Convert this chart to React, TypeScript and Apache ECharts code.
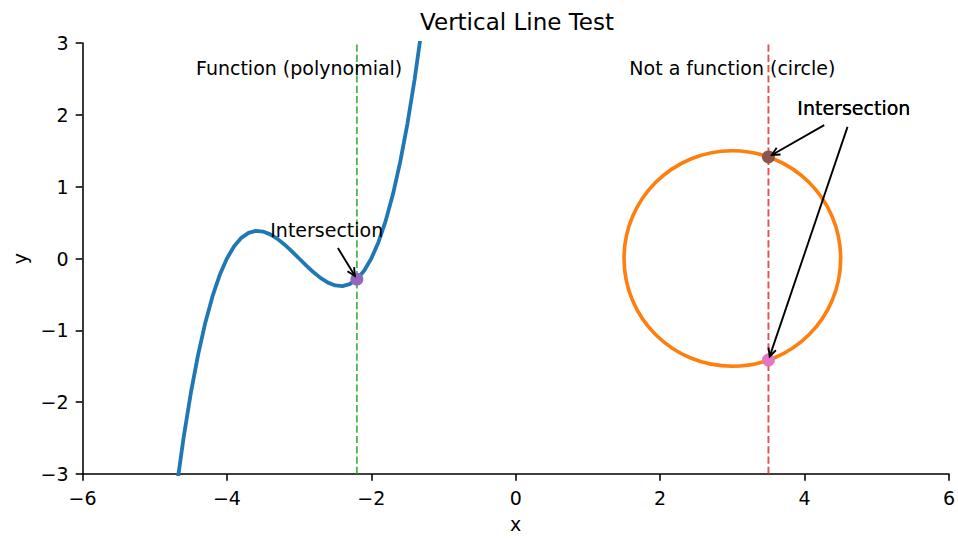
import React, { useEffect, useRef } from "react";
import * as echarts from "echarts";

const FONT = "DejaVu Sans";
const FS = 19; // body text size (px)

// Axis ranges and ticks
const xRange = [-6, 6];
const yRange = [-3, 3];
const xStep = 2;
const yStep = 1;

// Cubic curve sampled along x (the y range clips both ends)
const polyX = [
  -4.7, -4.6, -4.5, -4.4, -4.3, -4.2, -4.1, -4.0, -3.9, -3.8, -3.7, -3.6,
  -3.5, -3.4, -3.3, -3.2, -3.1, -3.0, -2.9, -2.8, -2.7, -2.6, -2.5, -2.4,
  -2.3, -2.2, -2.1, -2.0, -1.9, -1.8, -1.7, -1.6, -1.5, -1.4, -1.3,
];
const polyY = [
  -3.213, -2.496, -1.875, -1.344, -0.897, -0.528, -0.231, 0, 0.171, 0.288,
  0.357, 0.384, 0.375, 0.336, 0.273, 0.192, 0.099, 0, -0.099, -0.192, -0.273,
  -0.336, -0.375, -0.384, -0.357, -0.288, -0.171, 0, 0.231, 0.528, 0.897,
  1.344, 1.875, 2.496, 3.213,
];

// Circle: centre and radius
const circleCX = [3];
const circleCY = [0];
const circleR = [1.5];

// Vertical test lines
const testLineX = [-2.2, 3.5];
const testLineColors = ["#2ca02c", "#d62728"];

// Intersection points
const pointX = [-2.2, 3.5, 3.5];
const pointY = [-0.288, 1.414, -1.414];
const pointColors = ["#9467bd", "#8c564b", "#e377c2"];

// Annotation text anchors (left / baseline) and the point each one targets
const noteText = ["Intersection", "Intersection", "Intersection"];
const noteX = [-3.4, 3.9, 3.9];
const noteY = [0.31, 2.0, 2.0];
const noteTarget = [0, 1, 2];

// Captions (centred, bottom-anchored)
const captionText = ["Function (polynomial)", "Not a function (circle)"];
const captionX = [-3, 3];
const captionY = [2.5, 2.5];

const titleText = "Vertical Line Test";

const minus = (v: number) => String(v).replace("-", "\u2212");

function measure(text: string, size: number): number {
  const c = document.createElement("canvas").getContext("2d");
  if (!c) return text.length * size * 0.55;
  c.font = `${size}px "${FONT}"`;
  return c.measureText(text).width;
}

function buildOption() {
  const asc = 0.346 * FS; // baseline -> central line
  const halfBox = 0.582 * FS; // half of the text box height
  const pad = 3.9;
  const shrink = 3.9;
  const headLen = 7.8;
  const headHalf = 3.9;

  const series: any[] = [
    {
      type: "line",
      z: 2,
      data: polyX.map((x, i) => [x, polyY[i]]),
      showSymbol: false,
      clip: true,
      lineStyle: { color: "#1f77b4", width: 3.8 },
      silent: true,
    },
    {
      type: "custom",
      z: 2,
      data: circleCX.map((x, i) => [x, circleCY[i], circleR[i]]),
      encode: { x: 0, y: 1 },
      silent: true,
      renderItem: (_p: any, api: any) => {
        const c = api.coord([api.value(0), api.value(1)]);
        const s = api.size([api.value(2), api.value(2)]);
        return {
          type: "ellipse",
          shape: { cx: c[0], cy: c[1], rx: s[0], ry: s[1] },
          style: { fill: "none", stroke: "#ff7f0e", lineWidth: 3.6 },
        };
      },
    },
    ...testLineX.map((x, i) => ({
      type: "line",
      z: 3,
      data: [
        [x, yRange[0]],
        [x, yRange[1]],
      ],
      showSymbol: false,
      silent: true,
      lineStyle: { color: testLineColors[i], width: 1.9, type: [7.2, 3.1], opacity: 0.8 },
    })),
    {
      type: "scatter",
      z: 4,
      symbolSize: 13,
      silent: true,
      data: pointX.map((x, i) => ({
        value: [x, pointY[i]],
        itemStyle: { color: pointColors[i], opacity: 1 },
      })),
    },
    {
      type: "custom",
      z: 5,
      data: captionX.map((x, i) => [x, captionY[i]]),
      encode: { x: 0, y: 1 },
      silent: true,
      renderItem: (p: any, api: any) => {
        const a = api.coord([api.value(0), api.value(1)]);
        // bottom of text box sits on the anchor
        return {
          type: "text",
          x: a[0],
          y: a[1] - halfBox,
          style: {
            text: captionText[p.dataIndex],
            fill: "#000",
            font: `${FS}px "${FONT}"`,
            align: "center",
            verticalAlign: "middle",
          },
        };
      },
    },
    {
      type: "custom",
      z: 5,
      data: noteX.map((x, i) => [x, noteY[i], pointX[noteTarget[i]], pointY[noteTarget[i]]]),
      encode: { x: 0, y: 1 },
      silent: true,
      renderItem: (p: any, api: any) => {
        const text = noteText[p.dataIndex];
        const w = measure(text, FS);
        const a = api.coord([api.value(0), api.value(1)]);
        const t = api.coord([api.value(2), api.value(3)]);
        const cx = a[0] + w / 2;
        const cy = a[1] - asc;
        const dx = t[0] - cx;
        const dy = t[1] - cy;
        const len = Math.hypot(dx, dy);
        const ux = dx / len;
        const uy = dy / len;
        const hw = w / 2 + pad;
        const hh = halfBox + pad;
        const tx = Math.abs(ux) > 1e-9 ? hw / Math.abs(ux) : Infinity;
        const ty = Math.abs(uy) > 1e-9 ? hh / Math.abs(uy) : Infinity;
        const tStart = Math.min(tx, ty) + shrink;
        const sx = cx + ux * tStart;
        const sy = cy + uy * tStart;
        const ex = t[0] - ux * shrink;
        const ey = t[1] - uy * shrink;
        const bx = ex - ux * headLen;
        const by = ey - uy * headLen;
        const w1 = [bx - uy * headHalf, by + ux * headHalf];
        const w2 = [bx + uy * headHalf, by - ux * headHalf];
        return {
          type: "group",
          children: [
            {
              type: "line",
              shape: { x1: sx, y1: sy, x2: ex, y2: ey },
              style: { stroke: "#000", lineWidth: 1.9 },
            },
            {
              type: "polyline",
              shape: { points: [w1, [ex, ey], w2] },
              style: { stroke: "#000", lineWidth: 1.9, fill: "none" },
            },
            {
              type: "text",
              x: a[0],
              y: cy,
              style: {
                text,
                fill: "#000",
                font: `${FS}px "${FONT}"`,
                align: "left",
                verticalAlign: "middle",
              },
            },
          ],
        };
      },
    },
  ];

  const axisCommon = {
    type: "value" as const,
    splitLine: { show: false },
    axisLine: { show: true, onZero: false, lineStyle: { color: "#000", width: 1.55 } },
    axisTick: { show: true, inside: false, length: 6.8, lineStyle: { color: "#000", width: 1.55 } },
    nameLocation: "middle" as const,
    nameTextStyle: { color: "#000", fontSize: FS, fontFamily: FONT },
  };

  return {
    animation: false,
    backgroundColor: "#fff",
    graphic: [
      {
        type: "text",
        x: 517,
        y: 22,
        silent: true,
        style: {
          text: titleText,
          fill: "#000",
          font: `23px "${FONT}"`,
          align: "center",
          verticalAlign: "middle",
        },
      },
    ],
    grid: { left: 82.5, right: 6.5, top: 43, bottom: 60, containLabel: false },
    xAxis: {
      ...axisCommon,
      min: xRange[0],
      max: xRange[1],
      interval: xStep,
      name: "x",
      nameGap: 40,
      axisLabel: {
        color: "#000",
        fontSize: FS,
        fontFamily: FONT,
        margin: 14,
        formatter: (v: number) => minus(v),
      },
    },
    yAxis: {
      ...axisCommon,
      min: yRange[0],
      max: yRange[1],
      interval: yStep,
      name: "y",
      nameGap: 52,
      nameRotate: 90,
      axisLabel: {
        color: "#000",
        fontSize: FS,
        fontFamily: FONT,
        margin: 14,
        formatter: (v: number) => minus(v),
      },
    },
    series,
  };
}

export default function App() {
  const ref = useRef<HTMLDivElement>(null);
  useEffect(() => {
    if (!ref.current) return;
    const chart = echarts.init(ref.current, null, { renderer: "svg" });
    chart.setOption(buildOption() as any);
    return () => chart.dispose();
  }, []);
  return (
    <div
      ref={ref}
      style={{ position: "absolute", left: 0, top: 0, width: 958, height: 538, background: "#fff" }}
    />
  );
}
